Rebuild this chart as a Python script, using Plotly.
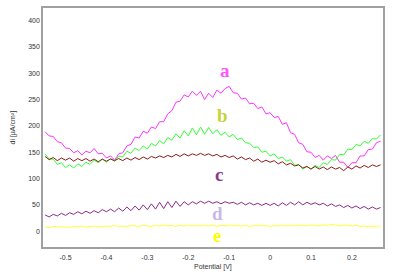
import numpy as np
import plotly.graph_objects as go

# Potential grid [V]
potential = np.round(np.arange(-0.55, 0.2701, 0.01), 3)

curve_a = [189,181,180,170,168,158,157,149,153,145,
           152,149,157,147,148,139,143,135,147,149,
           162,165,179,177,190,186,198,195,208,208,
           223,229,245,247,259,255,266,258,266,250,
           262,254,268,262,271,275,263,262,251,253,
           242,243,233,236,223,225,216,218,203,206,
           187,184,168,165,151,150,140,144,135,143,
           138,144,131,131,121,130,130,143,143,155,
           156,168,171]
curve_b = [147,137,137,127,130,121,126,120,128,123,
           131,127,135,130,137,131,138,133,143,141,
           152,148,158,153,162,156,167,162,172,166,
           178,173,185,177,191,181,196,183,198,184,
           197,185,193,182,188,179,184,174,177,168,
           167,159,160,150,152,143,147,138,141,133,
           136,125,127,118,123,118,125,121,130,127,
           136,135,146,145,156,155,165,162,171,167,
           176,175,183]
curve_c = [142,136,140,134,139,135,139,133,138,134,
           138,133,137,132,137,133,137,134,138,134,
           139,135,140,136,141,137,142,139,143,140,
           144,141,146,142,147,143,147,144,148,144,
           147,143,146,141,144,140,143,137,141,136,
           139,133,137,131,135,131,134,128,132,126,
           129,124,126,120,123,118,123,118,122,117,
           122,118,121,115,122,118,124,120,125,121,
           126,123,126]
curve_d = [31,27,32,29,34,30,35,32,37,33,
           38,34,39,35,41,37,42,37,44,38,
           46,39,48,40,50,41,52,42,55,43,
           56,45,57,47,56,50,56,52,57,53,
           57,53,56,52,56,53,55,51,55,50,
           54,50,53,49,53,49,53,48,54,49,
           55,50,56,50,55,51,54,50,53,48,
           52,47,50,45,49,44,48,43,47,42,
           46,42,45]
curve_e = [8,7,9,8,9,7,8,9,8,10,
           8,9,10,8,9,10,9,11,9,10,
           9,11,10,9,11,10,9,11,10,12,
           10,11,9,11,10,12,10,11,10,12,
           10,11,9,11,10,12,10,11,10,11,
           9,10,11,10,11,9,11,10,12,10,
           11,10,12,11,10,12,11,10,12,11,
           13,11,10,12,11,10,11,9,10,9,
           10,9,10]

series_names = ["a", "b", "c", "d", "e"]
series_values = [curve_a, curve_b, curve_c, curve_d, curve_e]
line_colors = ["#ff33ff", "#33ff33", "#8b1a1a", "#8b2a8b", "#ffff33"]

label_text = ["a", "b", "c", "d", "e"]
label_x = [-0.111, -0.116, -0.126, -0.129, -0.129]
label_y = [305, 219, 107, 33, -9]
label_colors = ["#ff55ff", "#c4d43c", "#8b3a8b", "#c8b8e8", "#ffff00"]

x_ticks = [-0.5, -0.4, -0.3, -0.2, -0.1, 0, 0.1, 0.2]
x_tick_text = ["-0.5", "-0.4", "-0.3", "-0.2", "-0.1", "0", "0.1", "0.2"]
y_ticks = [0, 50, 100, 150, 200, 250, 300, 350, 400]

fig = go.Figure()
for name, vals, col in zip(series_names, series_values, line_colors):
    fig.add_trace(go.Scatter(x=potential, y=vals, mode="lines", name=name,
                             line=dict(color=col, width=1), showlegend=False))

for t, lx, ly, lc in zip(label_text, label_x, label_y, label_colors):
    fig.add_annotation(x=lx, y=ly, text="<b>%s</b>" % t, showarrow=False,
                       font=dict(family="Liberation Serif", size=19, color=lc))

# axis titles
fig.add_annotation(xref="paper", yref="paper", x=0.5, y=0, yshift=-26,
                   text="Potential [V]", showarrow=False,
                   font=dict(size=7, color="#333"))
fig.add_annotation(xref="paper", yref="paper", x=0, y=0.5, xshift=-37,
                   text="di [µA/cm²]", textangle=-90, showarrow=False,
                   font=dict(size=7, color="#333"))

fig.update_layout(
    width=394, height=274,
    margin=dict(l=43, r=11, t=8, b=27, autoexpand=False),
    paper_bgcolor="white", plot_bgcolor="white",
    font=dict(family="Liberation Sans", size=7, color="#333"),
    xaxis=dict(range=[-0.555, 0.276], tickvals=x_ticks, ticktext=x_tick_text,
               showgrid=False, zeroline=False, showline=True, mirror=True,
               linecolor="#a0a0a0", linewidth=1.5, ticks="", automargin=False,
               ticklabelstandoff=3),
    yaxis=dict(range=[-30, 424], tickvals=y_ticks,
               showgrid=False, zeroline=False, showline=True, mirror=True,
               linecolor="#a0a0a0", linewidth=1.5, ticks="", automargin=False),
)

fig.write_html("out.html", config={"displayModeBar": False},
               post_script="document.body.style.margin='0';document.body.style.overflow='hidden';")
